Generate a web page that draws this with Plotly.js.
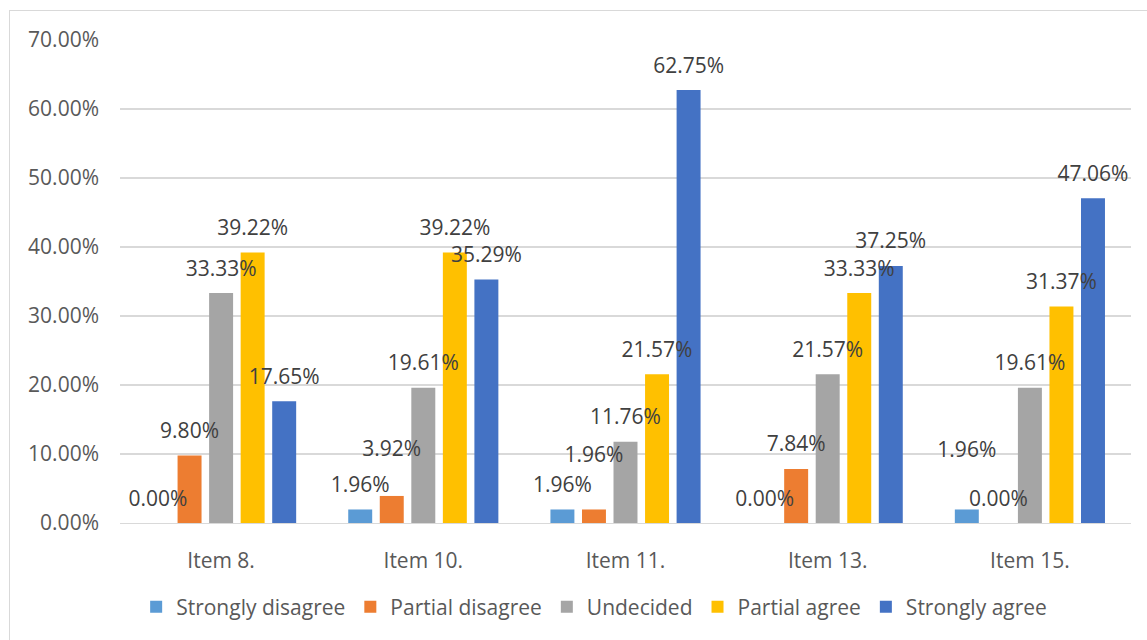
<!DOCTYPE html>
<html><head><meta charset="utf-8">
<script src="https://cdn.plot.ly/plotly-3.0.1.min.js"></script>
<style>
html,body{margin:0;padding:0;width:1147px;height:640px;overflow:hidden;background:#fff}
#frame{position:absolute;left:9px;top:10px;width:1200px;height:700px;border:1.5px solid #D9D9D9;box-sizing:border-box}
#chart{position:absolute;left:0;top:0;width:1147px;height:640px}
</style></head><body>
<div id="frame"></div><div id="chart"></div>
<script>
// ---- data ----
const categories = ['Item 8.', 'Item 10.', 'Item 11.', 'Item 13.', 'Item 15.'];
const seriesNames = ['Strongly disagree', 'Partial disagree', 'Undecided', 'Partial agree', 'Strongly agree'];
const stronglyDisagree = [0.0000, 0.0196, 0.0196, 0.0000, 0.0196];
const partialDisagree  = [0.0980, 0.0392, 0.0196, 0.0784, 0.0000];
const undecided        = [0.3333, 0.1961, 0.1176, 0.2157, 0.1961];
const partialAgree     = [0.3922, 0.3922, 0.2157, 0.3333, 0.3137];
const stronglyAgree    = [0.1765, 0.3529, 0.6275, 0.3725, 0.4706];
const yTickValues = [0, 0.1, 0.2, 0.3, 0.4, 0.5, 0.6, 0.7];

// ---- styles ----
const seriesColors = ['#5B9BD5', '#ED7D31', '#A5A5A5', '#FFC000', '#4472C4'];
// distance (px) of each data label's centre above its bar top
const labelLift = [
  [25, 25, 25, 25, 60],
  [25, 47, 55, 25, 25],
  [25, 25, 25, 25, 25],
  [25, 25, 25, 25, 25],
  [25, 25, 25, 25, 25]
];
const FONT = '"Open Sans", "Liberation Sans", Arial, sans-serif';
const LABEL_SIZE = 21;

const seriesValues = [stronglyDisagree, partialDisagree, undecided, partialAgree, stronglyAgree];

const traces = [];
seriesValues.forEach((vals, i) => {
  traces.push({
    type: 'bar', name: seriesNames[i], x: categories, y: vals,
    marker: {color: seriesColors[i]}, hoverinfo: 'skip'
  });
});
seriesValues.forEach((vals, i) => {
  traces.push({
    type: 'scatter', mode: 'markers+text', orientation: 'v',
    x: categories, y: vals, showlegend: false, hoverinfo: 'skip',
    cliponaxis: false,
    marker: {size: labelLift[i].map(d => 1.6 * (d - 13.75)), opacity: 0, color: seriesColors[i]},
    texttemplate: '%{y:.2%}', textposition: 'top center',
    textfont: {family: FONT, size: LABEL_SIZE, color: '#404040'}
  });
});

const layout = {
  width: 1147, height: 640,
  margin: {l: 120, r: 16, t: 40, b: 117},
  paper_bgcolor: 'rgba(0,0,0,0)', plot_bgcolor: 'rgba(0,0,0,0)',
  barmode: 'group', bargap: 0.22, bargroupgap: 0.24,
  scattermode: 'group', scattergap: 0.22,
  font: {family: FONT, color: '#595959'},
  xaxis: {
    type: 'category', showgrid: false, zeroline: false,
    showline: true, linecolor: '#D9D9D9', linewidth: 1.3,
    tickfont: {family: FONT, size: 21, color: '#595959'},
    ticks: '', ticklabelstandoff: 18, fixedrange: true
  },
  yaxis: {
    range: [0, 0.7], tickvals: yTickValues, tickformat: '.2%',
    showgrid: true, gridcolor: '#D9D9D9', gridwidth: 1.3, zeroline: false,
    tickfont: {family: FONT, size: 21, color: '#595959'},
    ticks: '', ticklabelstandoff: 20, fixedrange: true
  },
  legend: {
    orientation: 'h', x: 0.469, xanchor: 'center', y: -0.174, yanchor: 'middle',
    itemwidth: 30,
    font: {family: FONT, size: 21, color: '#595959'}, traceorder: 'normal'
  },
  showlegend: true
};

Plotly.newPlot('chart', traces, layout, {displayModeBar: false, staticPlot: true});
</script>
</body></html>
